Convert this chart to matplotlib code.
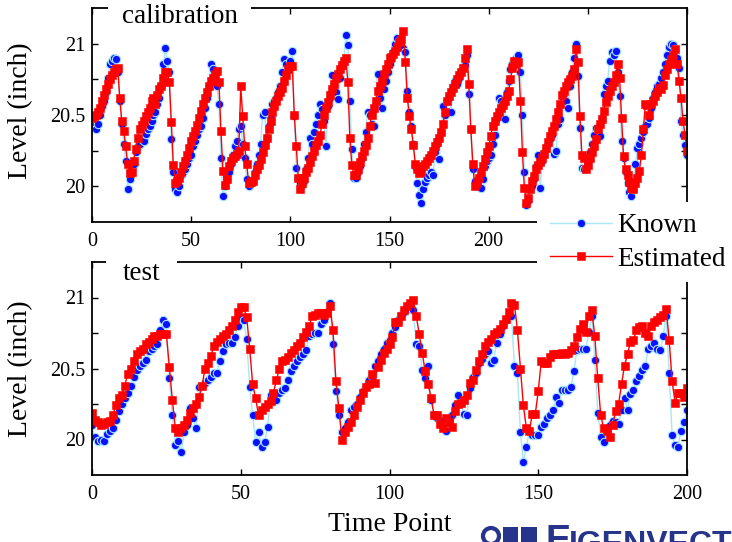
import numpy as np
import matplotlib.pyplot as plt
from matplotlib.patches import Rectangle, Circle

plt.rcParams['font.family'] = ['Liberation Serif', 'DejaVu Serif']

# calibration set, one value per time point (0..300)
cal_known = [
    20.45, 20.42, 20.40, 20.44, 20.50, 20.56, 20.60, 20.66, 20.76, 20.86,
    20.88, 20.90, 20.89, 20.80, 20.60, 20.44, 20.30, 20.18, 19.98, 20.05,
    20.12, 20.16, 20.24, 20.28, 20.30, 20.33, 20.32, 20.37, 20.40, 20.42,
    20.46, 20.50, 20.52, 20.58, 20.62, 20.70, 20.86, 20.97, 20.88, 20.80,
    20.33, 20.10, 19.98, 19.96, 20.00, 20.08, 20.10, 20.12, 20.16, 20.20,
    20.22, 20.28, 20.32, 20.36, 20.40, 20.42, 20.48, 20.55, 20.62, 20.70,
    20.86, 20.82, 20.78, 20.70, 20.58, 20.20, 19.93, 20.00, 20.06, 20.10,
    20.16, 20.22, 20.28, 20.32, 20.40, 20.42, 20.30, 20.20, 20.05, 20.00,
    20.02, 20.04, 20.10, 20.16, 20.22, 20.30, 20.50, 20.52, 20.34, 20.42,
    20.48, 20.58, 20.60, 20.62, 20.66, 20.70, 20.80, 20.89, 20.86, 20.82,
    20.88, 20.95, 20.49, 20.13, 20.06, 20.02, 20.01, 20.04, 20.12, 20.20,
    20.34, 20.30, 20.38, 20.44, 20.50, 20.58, 20.54, 20.46, 20.28, 20.56,
    20.62, 20.78, 20.70, 20.66, 20.61, 20.76, 20.84, 20.87, 21.06, 20.99,
    20.60, 20.26, 20.06, 20.06, 20.10, 20.14, 20.20, 20.30, 20.38, 20.52,
    20.50, 20.44, 20.42, 20.58, 20.79, 20.62, 20.55, 20.68, 20.74, 20.80,
    20.86, 20.90, 20.94, 21.00, 21.04, 21.02, 21.00, 20.97, 20.94, 20.67,
    20.52, 20.42, 20.30, 20.14, 20.02, 19.94, 19.88, 19.98, 20.03, 20.06,
    20.08, 20.10, 20.08, 20.24, 20.30, 20.19, 20.38, 20.56, 20.50, 20.60,
    20.62, 20.52, 20.70, 20.74, 20.72, 20.76, 20.80, 20.83, 20.85, 20.92,
    20.65, 20.40, 20.12, 20.04, 20.00, 20.02, 19.99, 20.05, 20.14, 20.18,
    20.20, 20.22, 20.30, 20.36, 20.48, 20.62, 20.60, 20.58, 20.47, 20.66,
    20.74, 20.82, 20.86, 20.88, 20.90, 20.92, 20.80, 20.50, 20.10, 19.87,
    19.90, 19.98, 20.00, 20.05, 20.14, 20.22, 19.99, 20.18, 20.22, 20.26,
    20.30, 20.33, 20.36, 20.23, 20.25, 20.44, 20.47, 20.58, 20.62, 20.60,
    20.55, 20.70, 20.80, 20.90, 21.00, 20.77, 20.41, 20.13, 20.12, 20.13,
    20.18, 20.24, 20.30, 20.36, 20.41, 20.40, 20.35, 20.48, 20.65, 20.70,
    20.74, 20.88, 20.94, 20.92, 20.95, 20.80, 20.63, 20.32, 20.20, 20.10,
    20.02, 19.96, 19.93, 19.98, 20.16, 20.27, 20.30, 20.34, 20.38, 20.42,
    20.44, 20.48, 20.55, 20.62, 20.66, 20.70, 20.72, 20.76, 20.80, 20.86,
    20.92, 20.98, 21.00, 20.99, 20.96, 20.90, 20.83, 20.46, 20.36, 20.29,
    20.22]

cal_est = [
    20.48, 20.49, 20.50, 20.52, 20.55, 20.60, 20.64, 20.68, 20.72, 20.75,
    20.78, 20.80, 20.82, 20.83, 20.62, 20.46, 20.39, 20.28, 20.16, 20.09,
    20.10, 20.18, 20.26, 20.34, 20.40, 20.43, 20.46, 20.49, 20.52, 20.55,
    20.60, 20.62, 20.58, 20.64, 20.68, 20.70, 20.76, 20.80, 20.80, 20.73,
    20.45, 20.15, 20.02, 20.04, 20.06, 20.10, 20.14, 20.18, 20.22, 20.27,
    20.32, 20.35, 20.39, 20.43, 20.48, 20.53, 20.58, 20.62, 20.66, 20.70,
    20.74, 20.76, 20.79, 20.81, 20.73, 20.39, 20.11, 20.01, 20.05, 20.14,
    20.18, 20.20, 20.21, 20.23, 20.25, 20.70, 20.49, 20.28, 20.16, 20.02,
    20.03, 20.04, 20.08, 20.12, 20.15, 20.19, 20.24, 20.29, 20.34, 20.40,
    20.46, 20.52, 20.56, 20.60, 20.63, 20.66, 20.69, 20.74, 20.78, 20.82,
    20.84, 20.84, 20.50, 20.28, 20.06, 19.98, 20.02, 20.06, 20.10, 20.13,
    20.17, 20.21, 20.25, 20.29, 20.32, 20.36, 20.44, 20.50, 20.55, 20.59,
    20.64, 20.68, 20.72, 20.76, 20.79, 20.82, 20.85, 20.88, 20.90, 20.73,
    20.34, 20.15, 20.08, 20.08, 20.12, 20.17, 20.21, 20.25, 20.29, 20.34,
    20.42, 20.50, 20.55, 20.60, 20.67, 20.70, 20.74, 20.79, 20.82, 20.86,
    20.90, 20.91, 20.93, 20.95, 20.98, 21.01, 21.03, 21.09, 20.87, 20.62,
    20.49, 20.40, 20.29, 20.16, 20.12, 20.09, 20.10, 20.14, 20.16, 20.18,
    20.20, 20.22, 20.25, 20.28, 20.31, 20.34, 20.38, 20.44, 20.52, 20.60,
    20.63, 20.66, 20.69, 20.72, 20.75, 20.78, 20.80, 20.83, 20.90, 20.96,
    20.72, 20.40, 20.16, 20.00, 20.02, 20.06, 20.10, 20.14, 20.19, 20.24,
    20.28, 20.35, 20.42, 20.46, 20.49, 20.52, 20.55, 20.57, 20.60, 20.63,
    20.67, 20.75, 20.83, 20.88, 20.86, 20.87, 20.60, 20.24, 19.99, 19.88,
    19.92, 19.98, 20.04, 20.07, 20.12, 20.15, 20.17, 20.20, 20.23, 20.27,
    20.31, 20.35, 20.39, 20.42, 20.47, 20.52, 20.58, 20.64, 20.67, 20.70,
    20.73, 20.75, 20.77, 20.82, 20.96, 20.87, 20.49, 20.22, 20.20, 20.12,
    20.15, 20.20, 20.24, 20.28, 20.33, 20.40, 20.44, 20.47, 20.53, 20.59,
    20.63, 20.67, 20.70, 20.73, 20.78, 20.86, 20.76, 20.48, 20.21, 20.12,
    20.08, 20.03, 19.99, 19.98, 20.02, 20.06, 20.11, 20.22, 20.40, 20.58,
    20.57, 20.50, 20.58, 20.60, 20.63, 20.66, 20.69, 20.68, 20.71, 20.78,
    20.82, 20.86, 20.89, 20.92, 20.96, 20.86, 20.74, 20.62, 20.46, 20.36,
    20.25]

# test set, time points 0..200
test_known = [
    20.10, 20.02, 19.99, 20.00, 19.99, 20.04, 20.06, 20.08, 20.14, 20.20,
    20.25, 20.29, 20.33, 20.38, 20.44, 20.49, 20.52, 20.54, 20.56, 20.62,
    20.64, 20.66, 20.67, 20.77, 20.84, 20.81, 20.43, 20.17, 19.96, 19.99,
    19.91, 20.05, 20.10, 20.22, 20.15, 20.08, 20.37, 20.38, 20.40, 20.42,
    20.44, 20.47, 20.47, 20.55, 20.62, 20.67, 20.68, 20.68, 20.72, 20.80,
    20.86, 20.84, 20.71, 20.37, 20.17, 19.98, 20.05, 19.95, 19.98, 20.09,
    20.31, 20.30, 20.28, 20.33, 20.35, 20.36, 20.42, 20.48, 20.52, 20.55,
    20.58, 20.60, 20.63, 20.73, 20.74, 20.75, 20.75, 20.81, 20.84, 20.90,
    20.96, 20.67, 20.34, 20.17, 20.05, 20.08, 20.12, 20.21, 20.23, 20.25,
    20.30, 20.34, 20.38, 20.42, 20.45, 20.52, 20.55, 20.60, 20.64, 20.68,
    20.70, 20.75, 20.79, 20.84, 20.88, 20.90, 20.92, 20.95, 20.91, 20.67,
    20.66, 20.49, 20.43, 20.52, 20.28, 20.17, 20.15, 20.14, 20.13, 20.06,
    20.12, 20.17, 20.24, 20.31, 20.26, 20.18, 20.17, 20.36, 20.44, 20.47,
    20.54, 20.57, 20.60, 20.62, 20.54, 20.56, 20.68, 20.74, 20.80, 20.84,
    20.86, 20.87, 20.52, 20.47, 20.05, 19.84, 19.95, 20.06, 20.03, 20.03,
    20.03, 20.09, 20.11, 20.15, 20.17, 20.21, 20.30, 20.26, 20.35, 20.35,
    20.35, 20.37, 20.48, 20.63, 20.64, 20.64, 20.64, 20.76, 20.87, 20.56,
    20.19, 20.02, 19.98, 20.05, 20.10, 20.13, 20.12, 20.11, 20.21, 20.29,
    20.21, 20.32, 20.35, 20.41, 20.45, 20.49, 20.52, 20.64, 20.66, 20.68,
    20.64, 20.63, 20.73, 20.87, 20.47, 20.03, 19.96, 19.95, 20.06, 20.12,
    20.21]

test_est = [
    20.19, 20.14, 20.12, 20.10, 20.11, 20.12, 20.13, 20.17, 20.24, 20.29,
    20.31, 20.38, 20.46, 20.50, 20.55, 20.60, 20.62, 20.64, 20.67, 20.69,
    20.71, 20.73, 20.73, 20.74, 20.74, 20.74, 20.51, 20.28, 20.08, 20.05,
    20.08, 20.10, 20.14, 20.19, 20.22, 20.25, 20.30, 20.38, 20.50, 20.54,
    20.59, 20.66, 20.69, 20.71, 20.73, 20.74, 20.77, 20.80, 20.84, 20.90,
    20.93, 20.93, 20.86, 20.64, 20.39, 20.29, 20.17, 20.21, 20.23, 20.25,
    20.27, 20.33, 20.42, 20.50, 20.55, 20.56, 20.58, 20.61, 20.63, 20.66,
    20.68, 20.72, 20.76, 20.80, 20.87, 20.88, 20.89, 20.89, 20.88, 20.89,
    20.94, 20.77, 20.41, 20.22, 20.00, 20.05, 20.09, 20.12, 20.17, 20.23,
    20.28, 20.33, 20.37, 20.39, 20.46, 20.40, 20.51, 20.56, 20.61, 20.64,
    20.67, 20.72, 20.83, 20.83, 20.87, 20.91, 20.94, 20.96, 20.98, 20.87,
    20.74, 20.61, 20.48, 20.39, 20.29, 20.17, 20.17, 20.11, 20.08, 20.15,
    20.12, 20.09, 20.20, 20.25, 20.26, 20.28, 20.31, 20.40, 20.42, 20.49,
    20.55, 20.60, 20.66, 20.69, 20.71, 20.74, 20.76, 20.78, 20.81, 20.85,
    20.90, 20.96, 20.95, 20.77, 20.50, 20.24, 20.08, 20.06, 20.18, 20.18,
    20.34, 20.55, 20.54, 20.54, 20.58, 20.60, 20.60, 20.60, 20.61, 20.60,
    20.61, 20.63, 20.66, 20.72, 20.78, 20.81, 20.76, 20.87, 20.91, 20.73,
    20.43, 20.17, 20.08, 20.06, 20.02, 20.10, 20.20, 20.25, 20.39, 20.52,
    20.60, 20.69, 20.70, 20.77, 20.79, 20.80, 20.75, 20.73, 20.80, 20.83,
    20.84, 20.86, 20.88, 20.92, 20.70, 20.41, 20.26, 20.33, 20.33, 20.30,
    20.36]

yticks = [20, 20.25, 20.5, 20.75, 21]
ytick_labels = ['20', '', '20.5', '', '21']
cal_xticks = [0, 50, 100, 150, 200, 250, 300]
cal_xlabels = ['0', '50', '100', '150', '200', '', '']   # last two sit under the legend
test_xticks = [0, 50, 100, 150, 200]
test_xlabels = ['0', '50', '100', '150', '200']

W, H = 732, 542
fig = plt.figure(figsize=(W / 100, H / 100), dpi=100)
ax1 = fig.add_axes([92 / W, 1 - 222 / H, 595 / W, 214 / H])
ax2 = fig.add_axes([92 / W, 1 - 475 / H, 595 / W, 213 / H])

known_style = dict(color='#a8e6f8', lw=1, marker='o', ms=6, mfc='#0a10ff',
                   mec='#a8e6f8', mew=0.8)
est_style = dict(color='#ff0000', lw=1, marker='s', ms=6, mfc='#ff0000',
                 mec='#ff0000', mew=0.4)

for ax, known, est, xmax, xt, xl in [(ax1, cal_known, cal_est, 300, cal_xticks, cal_xlabels),
                                     (ax2, test_known, test_est, 200, test_xticks, test_xlabels)]:
    t = np.arange(len(known))
    l1, = ax.plot(t, known, **known_style)
    l2, = ax.plot(t, est, **est_style)
    ax.set_xlim(0, xmax)
    ax.set_ylim(19.75, 21.25)
    ax.set_xticks(xt)
    ax.set_xticklabels(xl)
    ax.set_yticks(yticks)
    ax.set_yticklabels(ytick_labels)
    ax.tick_params(direction='in', top=True, right=True, length=4, width=1,
                   labelsize=14.5, pad=5)
    ax.tick_params(axis='x', pad=7)
    for s in ax.spines.values():
        s.set_linewidth(1.3)
    ax.set_ylabel('Level (inch)', fontsize=20)

ax1.yaxis.set_label_coords(-0.099, 0.52)
ax2.yaxis.set_label_coords(-0.099, 0.5)
ax2.set_xlabel('Time Point', fontsize=20)
ax2.xaxis.set_label_coords(0.5, -0.175)

ax1.text(0.05, 0.93, 'calibration', transform=ax1.transAxes, fontsize=19.5,
         va='baseline', zorder=6, clip_on=False,
         bbox=dict(boxstyle='square,pad=0.5', fc='white', ec='none'))
ax2.text(0.052, 0.915, 'test', transform=ax2.transAxes, fontsize=19.5,
         va='baseline', zorder=6, clip_on=False,
         bbox=dict(boxstyle='square,pad=0.62', fc='white', ec='none'))

# white block behind the legend, hiding the axes there
fig.add_artist(Rectangle((537 / W, 1 - 282 / H), (W - 537) / W, 80 / H,
                         transform=fig.transFigure, fc='white', ec='none', zorder=4))
fig.legend([l1, l2], ['Known', 'Estimated'], loc='upper left',
           bbox_to_anchor=(550 / W, 1 - 213 / H), bbox_transform=fig.transFigure,
           frameon=False, fontsize=19.5, handlelength=2.3, handletextpad=0.2,
           labelspacing=0.33, borderpad=0, borderaxespad=0)

# logo, cut by the bottom edge
navy = '#27348b'
fig.add_artist(Circle((491 / 100, (H - 536) / 100), 0.08, transform=fig.dpi_scale_trans,
                      fc='white', ec=navy, lw=3))
fig.add_artist(Rectangle((503 / 100, 0), 0.15, (H - 527) / 100,
                         transform=fig.dpi_scale_trans, fc=navy, ec='none'))
fig.add_artist(Rectangle((521 / 100, 0), 0.16, (H - 527) / 100,
                         transform=fig.dpi_scale_trans, fc=navy, ec='none'))
fig.text(545 / W, 1 - 552 / H, 'E', fontsize=27, fontweight='bold', color=navy,
         family='Liberation Sans', va='baseline')
fig.text(569 / W, 1 - 553 / H, 'IGENVECTOR', fontsize=23, fontweight='bold',
         color=navy, family='Liberation Sans', va='baseline')

fig.savefig('out.png', dpi=100)
